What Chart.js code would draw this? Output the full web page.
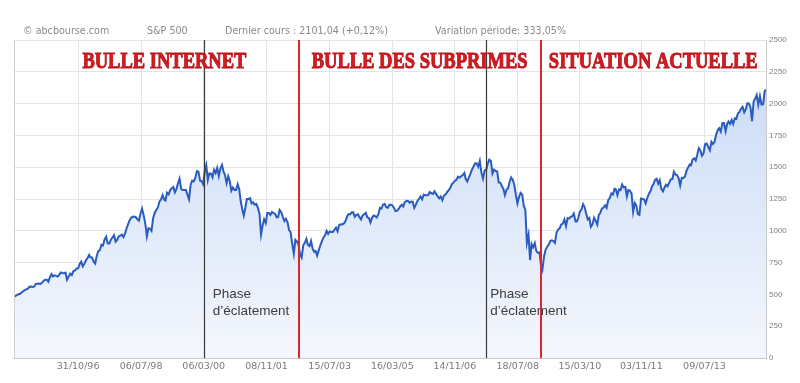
<!DOCTYPE html>
<html><head><meta charset="utf-8">
<script src="https://cdn.jsdelivr.net/npm/chart.js@4/dist/chart.umd.min.js"></script>
<style>html,body{margin:0;padding:0;background:#fff}#wrap{width:800px;height:383px;position:relative}</style>
</head><body><div id="wrap"><canvas id="c"></canvas></div>
<script>
// S&P 500, two readings per month (mid-month, end of month)
const y1995 = [465,470, 482,487, 495,501, 505,515, 525,533, 540,545, 560,562, 558,562, 583,584, 585,582, 593,605, 616,616];
const y1996 = [600,636, 660,640, 650,646, 640,654, 673,669, 667,671, 615,640, 663,652, 683,687, 702,705, 737,757, 720,741];
const y1997 = [768,786, 810,791, 790,757, 743,801, 840,848, 890,885, 930,954, 900,900, 930,947, 965,915, 928,955, 963,970];
const y1998 = [950,980, 1020,1049, 1080,1102, 1110,1112, 1108,1091, 1080,1134, 1175,1121, 1060,957, 1020,1017, 1000,1099, 1140,1164, 1180,1229];
const y1999 = [1245,1280, 1245,1238, 1300,1286, 1320,1335, 1345,1302, 1330,1373, 1410,1329, 1320,1320, 1320,1283, 1247,1363, 1395,1389, 1415,1469];
const y2000 = [1465,1394, 1390,1366, 1460,1515, 1400,1452, 1450,1421, 1480,1455, 1495,1431, 1490,1518, 1465,1437, 1375,1429, 1390,1315, 1340,1320];
const y2001 = [1320,1366, 1325,1240, 1173,1120, 1180,1250, 1250,1256, 1215,1224, 1205,1211, 1180,1134, 970,1041, 1090,1060, 1140,1140, 1125,1148];
const y2002 = [1140,1130, 1105,1107, 1165,1147, 1110,1077, 1095,1067, 1005,990, 900,820, 930,916, 890,815, 790,886, 905,936, 890,880];
const y2003 = [920,856, 835,841, 805,848, 885,917, 945,964, 1000,975, 995,990, 990,1008, 1025,996, 1045,1051, 1050,1058, 1075,1112];
const y2004 = [1132,1131, 1145,1145, 1110,1126, 1130,1107, 1090,1121, 1130,1141, 1105,1102, 1065,1104, 1120,1115, 1105,1130, 1180,1174, 1205,1212];
const y2005 = [1185,1181, 1205,1204, 1200,1181, 1155,1157, 1170,1192, 1205,1191, 1225,1234, 1235,1220, 1230,1229, 1180,1207, 1235,1250, 1270,1248];
const y2006 = [1285,1280, 1280,1281, 1305,1295, 1290,1311, 1290,1270, 1255,1270, 1240,1277, 1285,1304, 1320,1336, 1365,1378, 1395,1401, 1425,1418];
const y2007 = [1430,1438, 1455,1407, 1387,1421, 1450,1482, 1505,1531, 1530,1503, 1550,1455, 1410,1474, 1480,1527, 1560,1549, 1450,1481, 1470,1468];
const y2008 = [1380,1379, 1350,1331, 1280,1323, 1335,1386, 1420,1400, 1360,1280, 1215,1267, 1298,1283, 1195,1166, 905,969, 770,896, 870,903];
const y2009 = [840,826, 830,735, 695,798, 850,873, 890,919, 925,919, 905,987, 1010,1021, 1050,1057, 1090,1036, 1100,1096, 1110,1115];
const y2010 = [1136,1074, 1075,1104, 1150,1169, 1210,1187, 1135,1089, 1100,1031, 1050,1102, 1080,1049, 1125,1141, 1175,1183, 1200,1181, 1240,1258];
const y2011 = [1293,1286, 1330,1327, 1280,1326, 1320,1364, 1340,1345, 1270,1321, 1315,1292, 1150,1219, 1200,1131, 1125,1253, 1250,1247, 1215,1258];
const y2012 = [1290,1312, 1350,1366, 1400,1409, 1370,1398, 1330,1310, 1340,1362, 1350,1379, 1405,1407, 1465,1441, 1440,1412, 1355,1416, 1415,1426];
const y2013 = [1470,1498, 1520,1515, 1560,1569, 1553,1598, 1650,1631, 1590,1606, 1680,1686, 1660,1633, 1700,1682, 1700,1757, 1790,1806, 1780,1848];
const y2014 = [1848,1783, 1840,1860, 1840,1872, 1840,1884, 1880,1924, 1935,1960, 1975,1931, 1955,2003, 2000,1972, 1862,2018, 2040,2068, 1990,2059];
const y2015 = [1993,1995, 2097,2110];
const firstYear = 1995;

const tickLabels = ['31/10/96','06/07/98','06/03/00','08/11/01','15/07/03','16/03/05','14/11/06','18/07/08','15/03/10','03/11/11','09/07/13'];
const rangeStart = '15/02/95';
const rangeEnd = '28/02/15';
const yMax = 2500, yStep = 250;

const headerTexts = ['© abcbourse.com', 'S&P 500', 'Dernier cours : 2101,04 (+0,12%)', 'Variation période: 333,05%'];
const sectionTitles = ['BULLE INTERNET', 'BULLE DES SUBPRIMES', 'SITUATION ACTUELLE'];
const peakDates = ['06/03/00', '15/09/07'];     // black lines
const troughDates = ['17/09/02', '25/02/09'];   // red lines
const phaseLines = ['Phase', 'd\u2019éclatement'];

function dayOf(s) {
  const [d, m, y] = s.split('/').map(Number);
  const Y = y < 50 ? 2000 + y : 1900 + y;
  return Date.UTC(Y, m - 1, d) / 864e5;
}

const years = [y1995,y1996,y1997,y1998,y1999,y2000,y2001,y2002,y2003,y2004,y2005,y2006,y2007,y2008,y2009,y2010,y2011,y2012,y2013,y2014,y2015];
const points = [];
years.forEach((arr, k) => {
  const Y = firstYear + k;
  arr.forEach((v, j) => {
    const m = Math.floor(j / 2);
    const d = j % 2 === 0 ? 15 : new Date(Date.UTC(Y, m + 1, 0)).getUTCDate();
    points.push({ x: Date.UTC(Y, m, d) / 864e5, y: v });
  });
});

const tickDays = tickLabels.map(dayOf);

const overlay = {
  id: 'overlay',
  beforeDraw(chart) {
    const ctx = chart.ctx;
    ctx.save();
    ctx.fillStyle = '#ffffff';
    ctx.fillRect(0, 0, chart.width, chart.height);
    ctx.restore();
  },
  afterDatasetsDraw(chart) {
    const ctx = chart.ctx, a = chart.chartArea, xs = chart.scales.x;
    ctx.save();
    ctx.strokeStyle = '#cfcfcf'; ctx.lineWidth = 1;
    ctx.beginPath(); ctx.moveTo(a.left + 0.5, a.top); ctx.lineTo(a.left + 0.5, a.bottom); ctx.stroke();
    ctx.strokeStyle = '#3a3a3a'; ctx.lineWidth = 1.2;
    peakDates.forEach(s => {
      const x = Math.round(xs.getPixelForValue(dayOf(s))) + 0.5;
      ctx.beginPath(); ctx.moveTo(x, a.top); ctx.lineTo(x, a.bottom); ctx.stroke();
    });
    ctx.strokeStyle = '#e0262c'; ctx.lineWidth = 2;
    troughDates.forEach(s => {
      const x = Math.round(xs.getPixelForValue(dayOf(s)));
      ctx.beginPath(); ctx.moveTo(x, a.top); ctx.lineTo(x, a.bottom); ctx.stroke();
    });
    ctx.fillStyle = '#8a8a8a';
    ctx.font = '9.6px "DejaVu Sans"';
    ctx.textBaseline = 'alphabetic';
    const hx = [23, 147, 225, 435];
    headerTexts.forEach((t, i) => ctx.fillText(t, hx[i], 34));
    const bounds = [a.left + 16, xs.getPixelForValue(dayOf(troughDates[0])), xs.getPixelForValue(dayOf(troughDates[1])), a.right];
    ctx.font = 'bold 18.5px "Liberation Serif"';
    ctx.textAlign = 'center';
    sectionTitles.forEach((t, i) => {
      const cx = (bounds[i] + bounds[i + 1]) / 2;
      ctx.save();
      ctx.translate(cx, 68);
      ctx.scale(1, 1.2);
      ctx.fillStyle = '#d41c21';
      ctx.strokeStyle = '#b8141a';
      ctx.lineWidth = 0.8;
      ctx.fillText(t, 0, 0);
      ctx.strokeText(t, 0, 0);
      ctx.restore();
    });
    ctx.textAlign = 'left';
    ctx.fillStyle = '#3c3c3c';
    ctx.font = '13.5px "Liberation Sans"';
    const offs = [9, 4];
    peakDates.forEach((s, i) => {
      const x = xs.getPixelForValue(dayOf(s)) + offs[i];
      ctx.fillText(phaseLines[0], x, 298);
      ctx.fillText(phaseLines[1], x, 315);
    });
    ctx.restore();
  }
};

new Chart(document.getElementById('c'), {
  type: 'line',
  data: {
    datasets: [{
      data: points,
      borderColor: '#2a5cc0',
      borderWidth: 2,
      pointRadius: 0,
      tension: 0,
      fill: 'origin',
      backgroundColor: (c) => {
        const a = c.chart.chartArea;
        if (!a) return 'rgba(200,218,246,0.6)';
        const g = c.chart.ctx.createLinearGradient(0, a.top, 0, a.bottom);
        g.addColorStop(0, '#c4d7f5');
        g.addColorStop(0.35, '#d6e3f8');
        g.addColorStop(1, '#f4f7fd');
        return g;
      }
    }]
  },
  options: {
    responsive: true,
    maintainAspectRatio: false,
    animation: false,
    layout: { padding: { left: 14, top: 40, right: 0, bottom: 0 } },
    plugins: { legend: { display: false }, tooltip: { enabled: false } },
    scales: {
      x: {
        type: 'linear',
        min: dayOf(rangeStart),
        max: dayOf(rangeEnd),
        afterBuildTicks: (s) => { s.ticks = tickDays.map(v => ({ value: v })); },
        afterFit: (s) => { s.height = 25; },
        ticks: {
          autoSkip: false, maxRotation: 0, padding: 3,
          color: '#7a7a7a', font: { family: 'DejaVu Sans', size: 9.5 },
          callback: (v) => { const i = tickDays.indexOf(v); return i >= 0 ? tickLabels[i] : ''; }
        },
        grid: { color: '#e4e4e4', drawTicks: false },
        border: { color: '#c8c8c8' }
      },
      y: {
        position: 'right',
        min: 0, max: yMax,
        afterFit: (s) => { s.width = 34; },
        ticks: {
          stepSize: yStep, padding: 3,
          color: '#808080', font: { family: 'Liberation Sans', size: 8 },
          callback: (v) => String(v)
        },
        grid: { color: '#e4e4e4', drawTicks: false },
        border: { color: '#c8c8c8' }
      }
    }
  },
  plugins: [overlay]
});
</script></body></html>
